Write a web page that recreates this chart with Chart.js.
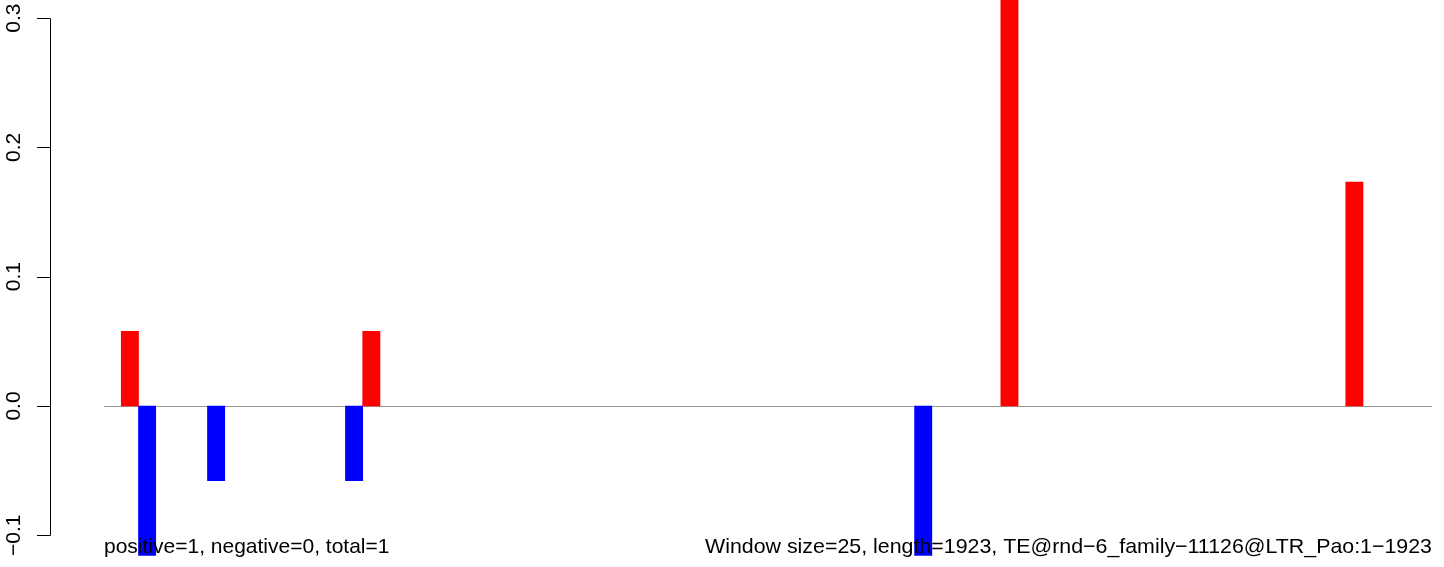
<!DOCTYPE html>
<html>
<head>
<meta charset="utf-8">
<script src="https://cdn.jsdelivr.net/npm/chart.js@4"></script>
<style>
  html, body { margin: 0; padding: 0; background: #fff; }
  #wrap { width: 1444px; height: 567px; }
</style>
</head>
<body>
<div id="wrap"><canvas id="chart" width="1444" height="567"></canvas></div>
<script>
// 1923 bp in windows of 25 -> 77 windows
const windowCount = 77;
const posWindows = [1, 15, 52, 72];
const posValues = [0.0577, 0.0577, 0.3464, 0.1732];
const negWindows = [2, 6, 14, 47];
const negValues = [-0.1155, -0.0577, -0.0577, -0.1155];
const yTicks = [-0.1, 0.0, 0.1, 0.2, 0.3];
const yTickLabels = ['\u22120.1', '0.0', '0.1', '0.2', '0.3'];
const leftNote = 'positive=1, negative=0, total=1';
const rightNote = 'Window size=25, length=1923, TE@rnd\u22126_family\u221211126@LTR_Pao:1\u22121923';

const labels = [];
for (let i = 1; i <= windowCount; i++) labels.push(String(i));

function spread(idx, vals) {
  const out = new Array(windowCount).fill(null);
  idx.forEach((w, k) => { out[w] = vals[k]; });
  return out;
}

const FONT = '21px "Liberation Sans", Arial, sans-serif';

// axis, zero line and notes drawn in R style
const rAxis = {
  id: 'rAxis',
  beforeDatasetsDraw(chart) {
    const ctx = chart.ctx, y = chart.scales.y, a = chart.chartArea;
    const y0 = Math.round(y.getPixelForValue(0)) + 0.5;
    ctx.save();
    ctx.strokeStyle = '#999999';
    ctx.lineWidth = 1;
    ctx.beginPath();
    ctx.moveTo(a.left, y0);
    ctx.lineTo(a.right, y0);
    ctx.stroke();
    ctx.restore();
  },
  afterDraw(chart) {
    const ctx = chart.ctx, y = chart.scales.y, a = chart.chartArea;
    ctx.save();
    ctx.strokeStyle = '#000';
    ctx.lineWidth = 1;
    const ax = 50.5;
    const top = Math.round(y.getPixelForValue(yTicks[yTicks.length - 1])) + 0.5;
    const bot = Math.round(y.getPixelForValue(yTicks[0])) + 0.5;
    ctx.beginPath();
    ctx.moveTo(ax, top);
    ctx.lineTo(ax, bot);
    yTicks.forEach(v => {
      const p = Math.round(y.getPixelForValue(v)) + 0.5;
      ctx.moveTo(ax, p);
      ctx.lineTo(37, p);
    });
    ctx.stroke();
    ctx.fillStyle = '#000';
    ctx.font = FONT;
    ctx.textAlign = 'center';
    ctx.textBaseline = 'middle';
    yTicks.forEach((v, i) => {
      const p = y.getPixelForValue(v);
      ctx.save();
      ctx.translate(14, p);
      ctx.rotate(-Math.PI / 2);
      ctx.fillText(yTickLabels[i], 0, 0);
      ctx.restore();
    });
    ctx.textBaseline = 'alphabetic';
    ctx.textAlign = 'left';
    ctx.fillText(leftNote, a.left, 553);
    // right note: stretch a little to the reference width (705..1432)
    const w = ctx.measureText(rightNote).width;
    const sx = (a.right - 705) / w;
    ctx.save();
    ctx.translate(a.right, 553);
    ctx.scale(sx, 1);
    ctx.textAlign = 'right';
    ctx.fillText(rightNote, 0, 0);
    ctx.restore();
    ctx.restore();
  }
};

new Chart(document.getElementById('chart').getContext('2d'), {
  type: 'bar',
  data: {
    labels: labels,
    datasets: [
      { label: 'positive', data: spread(posWindows, posValues), backgroundColor: '#ff0000' },
      { label: 'negative', data: spread(negWindows, negValues), backgroundColor: '#0000ff' }
    ]
  },
  options: {
    responsive: false,
    animation: false,
    layout: { padding: { left: 104, right: 12, top: 0, bottom: 11 } },
    datasets: { bar: { grouped: false, barPercentage: 1, categoryPercentage: 1 } },
    plugins: { legend: { display: false }, tooltip: { enabled: false } },
    scales: {
      x: { display: false, offset: true },
      y: { display: false, min: -0.116, max: 0.314 }
    }
  },
  plugins: [rAxis]
});
</script>
</body>
</html>
